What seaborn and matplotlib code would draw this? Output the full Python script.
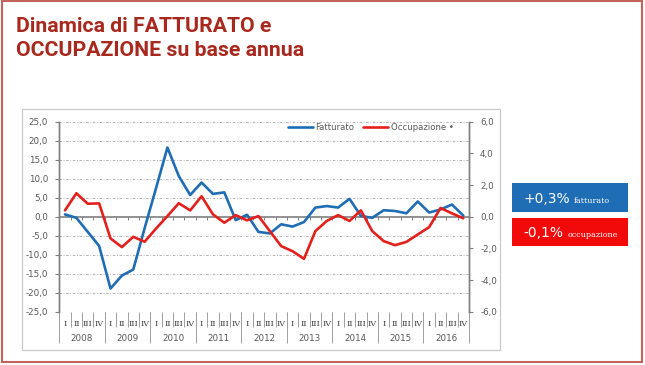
import numpy as np
import pandas as pd
import seaborn as sns
from matplotlib import pyplot as plt
from matplotlib.patches import Rectangle
from matplotlib.lines import Line2D
from matplotlib.ticker import FuncFormatter, FixedLocator
import matplotlib.transforms as mtransforms

# quarterly values (% change on year before)
years = ['2008', '2009', '2010', '2011', '2012', '2013', '2014', '2015', '2016']
quarters = ['I', 'II', 'III', 'IV']
fatturato = [0.6, -0.3, -4.0, -7.7, -18.9, -15.5, -13.9, -3.0,
             7.5, 18.2, 10.7, 5.7, 9.0, 6.0, 6.4, -0.9,
             0.5, -4.0, -4.4, -2.0, -2.6, -1.4, 2.4, 2.8,
             2.4, 4.7, 0.2, -0.3, 1.7, 1.5, 0.9, 4.0,
             1.1, 1.9, 3.2, 0.3]
occupazione = [0.4, 1.48, 0.82, 0.84, -1.37, -1.92, -1.27, -1.58,
               -0.75, 0.04, 0.85, 0.4, 1.29, 0.15, -0.38, 0.1,
               -0.23, 0.04, -0.91, -1.86, -2.18, -2.66, -0.91, -0.27,
               0.1, -0.27, 0.4, -0.91, -1.54, -1.8, -1.59, -1.12,
               -0.66, 0.55, 0.21, -0.1]
box_labels = [('+0,3%', 'fatturato'), ('-0,1%', 'occupazione')]

BLUE = '#1f6db4'
RED = '#e3201c'
GREY = '#7f7f7f'
TXT = '#595959'
W, H = 645, 365

df = pd.DataFrame({'pos': np.arange(len(fatturato)),
                   'fatturato': fatturato,
                   'occupazione': occupazione})

sns.set_style('white')
plt.rcParams['font.family'] = ['DejaVu Sans']

fig = plt.figure(figsize=(6.45, 3.65), dpi=100)


def fx(px):
    return px / W


def fy(py):
    return 1 - py / H


# slide frame and chart box
fig.patches.append(Rectangle((fx(2), fy(362)), fx(640), 361 / H, fill=False,
                             edgecolor='#c4635b', linewidth=1.5,
                             transform=fig.transFigure))
fig.patches.append(Rectangle((fx(21.7), fy(350)), fx(478.3), 241 / H,
                             fill=False, edgecolor='#c9c9c9', linewidth=0.9,
                             transform=fig.transFigure))

fig.text(fx(16), fy(32.3), 'Dinamica di FATTURATO e', fontsize=15.3,
         fontweight='bold', color='#a8281e', family='Roboto',
         va='baseline')
fig.text(fx(16), fy(56.5), 'OCCUPAZIONE su base annua', fontsize=15.3,
         fontweight='bold', color='#a8281e', family='Roboto',
         va='baseline')

ax = fig.add_axes([fx(59.3), fy(311.7), fx(469 - 59.3), (311.7 - 121.7) / H])
ax2 = ax.twinx()

sns.lineplot(data=df, x='pos', y='fatturato', ax=ax, color=BLUE,
             linewidth=1.9, legend=False)
sns.lineplot(data=df, x='pos', y='occupazione', ax=ax2, color=RED,
             linewidth=1.9, legend=False)

n = len(fatturato)
ax.set_xlim(-0.5, n - 0.5)
ax.set_ylim(-25, 25)
ax2.set_ylim(-6, 6)
ax.set_xlabel('')
ax.set_ylabel('')
ax2.set_xlabel('')
ax2.set_ylabel('')

fmt = FuncFormatter(lambda v, p: '{:.1f}'.format(v).replace('.', ','))
ax.yaxis.set_major_locator(FixedLocator(np.arange(-25, 26, 5)))
ax2.yaxis.set_major_locator(FixedLocator(np.arange(-6, 7, 2)))
ax.yaxis.set_major_formatter(fmt)
ax2.yaxis.set_major_formatter(fmt)

# grid: dash-dot, zero line solid
for v in np.arange(-25, 26, 5):
    if v == 0:
        ax.axhline(0, color=GREY, linewidth=1.2, zorder=1)
    else:
        ax.axhline(v, color='#a6a6a6', linewidth=0.6,
                   linestyle=(0, (3, 2, 1, 2)), zorder=0)

for a in (ax, ax2):
    for s in ('top', 'bottom'):
        a.spines[s].set_visible(False)
    a.spines['left'].set_color(GREY)
    a.spines['right'].set_color(GREY)
    a.spines['left'].set_linewidth(1.0)
    a.spines['right'].set_linewidth(1.0)
    a.patch.set_visible(False)

ax.tick_params(axis='y', which='major', direction='out', length=3,
               color=GREY, labelsize=6.3, labelcolor=TXT, pad=5,
               left=True, right=False)
ax2.tick_params(axis='y', which='major', direction='out', length=3,
                color=GREY, labelsize=6.3, labelcolor=TXT, pad=5,
                right=True, left=False)

# quarter labels and separators
ax.set_xticks(df['pos'])
ax.set_xticklabels(quarters * len(years), family='DejaVu Serif',
                   fontsize=5.9, color='#404040')
ax.set_xticks(np.arange(-0.5, n, 1), minor=True)
ax.tick_params(axis='x', which='major', length=0, pad=6, bottom=True,
               labelbottom=True)
ax.tick_params(axis='x', which='minor', length=11, width=0.7,
               color='#a0a0a0', direction='out', bottom=True)

# small ticks along the zero line
ax.vlines(np.arange(-0.5, n, 1), -0.9, 0, color=GREY, linewidth=0.7,
          zorder=1)

trans = mtransforms.blended_transform_factory(ax.transData, ax.transAxes)
for i, yr in enumerate(years):
    ax.text(4 * i + 1.5, -0.14, yr, transform=trans, ha='center',
            va='center', fontsize=6.3, color=TXT)
ax.vlines(np.arange(-0.5, n, 4), -0.165, 0, transform=trans,
          color='#a0a0a0', linewidth=0.7, clip_on=False)

handles = [Line2D([], [], color=BLUE, linewidth=1.9),
           Line2D([], [], color=RED, linewidth=1.9)]
ax2.legend(handles, ['Fatturato', 'Occupazione \u2022'], loc='upper right',
           bbox_to_anchor=(0.962, 0.995), ncol=2, frameon=False,
           fontsize=6.1, handlelength=2.9, handletextpad=0.3,
           columnspacing=1.1, borderpad=0, borderaxespad=0,
           labelcolor=TXT)

# summary boxes on the right
box_colors = [BLUE, '#f20a0a']
box_tops = [183.3, 217.7]
for (big, small), col, top in zip(box_labels, box_colors, box_tops):
    fig.patches.append(Rectangle((fx(511.7), fy(top + 28.4)), fx(116),
                                 28.4 / H, facecolor=col, edgecolor='none',
                                 transform=fig.transFigure))
    t = fig.text(fx(523.5), fy(top + 19.5), big, fontsize=10, color='white',
                 va='baseline')
    fig.canvas.draw()
    bb = t.get_window_extent()
    fig.text(bb.x1 / W + fx(4), fy(top + 19.5), small, fontsize=5.8,
             color='white', family='DejaVu Serif', va='baseline')

fig.savefig('out.png', dpi=100)
